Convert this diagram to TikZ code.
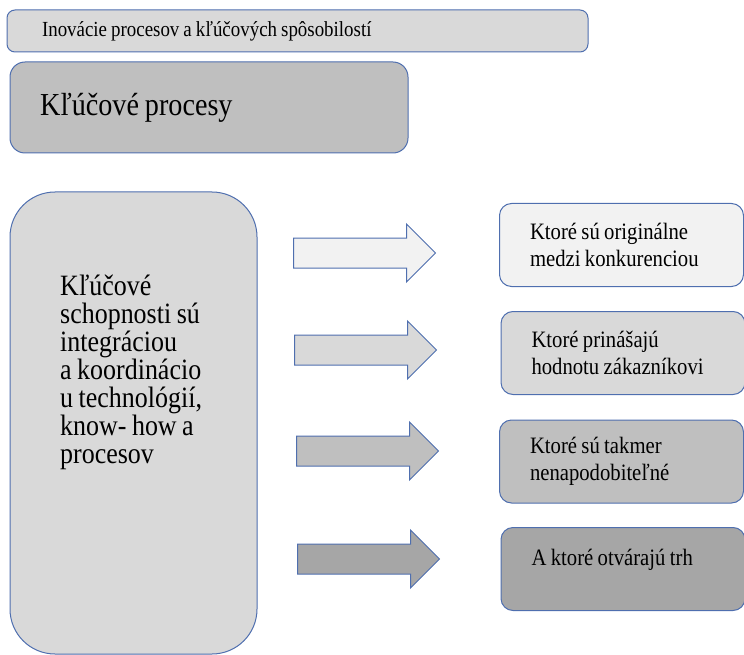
\documentclass[tikz,border=0pt]{standalone}
\usepackage{fontspec}
\setmainfont{Liberation Serif}[FakeStretch=0.88, WordSpace=0.85]
\usepackage{xcolor}
\usetikzlibrary{positioning,shapes.arrows}
\definecolor{edge}{HTML}{4F6FAF}
\definecolor{gA}{HTML}{F2F2F2}
\definecolor{gB}{HTML}{D9D9D9}
\definecolor{gC}{HTML}{BFBFBF}
\definecolor{gD}{HTML}{A6A6A6}

\begin{document}
\begin{tikzpicture}[x=1pt, y=-1pt, every node/.style={align=flush left},
  box/.style={draw=edge, line width=1pt, rounded corners=12pt, inner ysep=0pt},
  res/.style={box, minimum width=244pt, minimum height=83pt, text width=183pt, inner xsep=30pt,
    font=\fontsize{23.5}{26.5}\selectfont},
  sarr/.style={shape=single arrow, draw=edge, line width=1pt, anchor=tail, inner xsep=0pt, inner ysep=14.5pt,
    minimum height=142pt, single arrow head extend=14pt, single arrow head indent=0pt}]
\useasboundingbox (0,0) rectangle (744,655);
\node[box, rounded corners=8pt, fill=gB, minimum width=581pt, minimum height=42pt, text width=511pt,
  inner xsep=35pt, font=\fontsize{21.5}{24}\selectfont] (top) at (297.5,31) {Inovácie procesov a kľúčových spôsobilostí};
\node[box, rounded corners=15pt, fill=gC, minimum width=398pt, minimum height=91pt, text width=338pt,
  inner xsep=30pt, font=\fontsize{32}{36}\selectfont] (kp) at (209,107.5) {Kľúčové procesy};
\node[box, rounded corners=45pt, fill=gB, minimum width=247pt, minimum height=462pt] (ks) at (133.5,423) {};
\node[anchor=base west, inner sep=0pt, font=\fontsize{29.5}{28}\selectfont] (kstext) at (60,463)
  {Kľúčové\\schopnosti sú\\integráciou\\a koordinácio\\u technológií,\\know- how a\\procesov};
\node[sarr, fill=gA] (a1) at (293,253) {};
\node[sarr, fill=gB] (a2) at (294,350) {};
\node[sarr, fill=gC] (a3) at (296,451) {};
\node[sarr, fill=gD] (a4) at (297,559) {};
\node[res, fill=gA] (r1) at (621.5,245) {Ktoré sú originálne\\medzi konkurenciou};
\node[res, fill=gB] (r2) at (623,353) {Ktoré prinášajú\\hodnotu zákazníkovi};
\node[res, fill=gC] (r3) at (621.5,461.5) {Ktoré sú takmer\\nenapodobiteľné};
\node[res, fill=gD] (r4) at (623,569) {A ktoré otvárajú trh\\[-12pt]\strut};
\end{tikzpicture}
\end{document}
